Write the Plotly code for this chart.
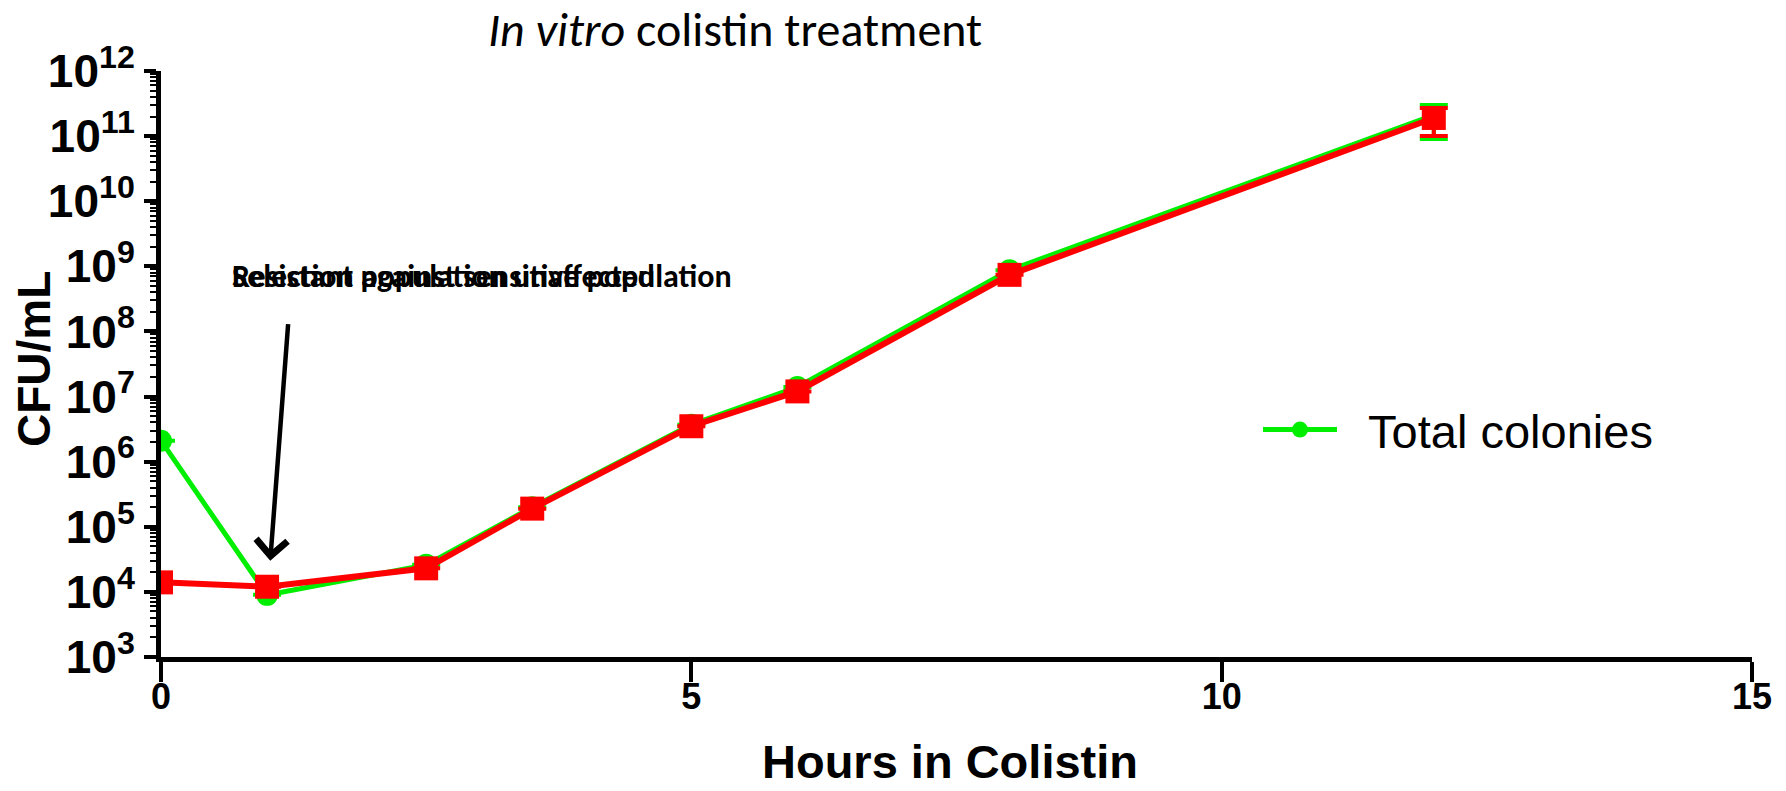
import plotly.graph_objects as go

# ---- data ----
hours = [0, 1, 2.5, 3.5, 5, 6, 8, 12]
total_colonies = [2.1e6, 9.0e3, 2.6e4, 2.0e5, 3.7e6, 1.4e7, 8.7e8, 2.1e11]
total_err_plus = [0, 0, 0, 0, 0, 0, 0, 0.9e11]
total_err_minus = [0, 0, 0, 0, 0, 0, 0, 1.2e11]
resistant = [1.4e4, 1.2e4, 2.3e4, 1.9e5, 3.5e6, 1.2e7, 7.4e8, 1.9e11]
res_err_plus = [0, 0, 0, 0, 0, 0, 0, 0.8e11]
res_err_minus = [0, 0, 0, 0, 0, 0, 0, 0.9e11]
x_ticks = [0, 5, 10, 15]
y_exponents = [3, 4, 5, 6, 7, 8, 9, 10, 11, 12]

title_text = "<i>In vitro</i> colistin treatment"
note_1 = "Selection against sensitive population"
note_2 = "Resistant population unaffected"
legend_name = "\u00a0\u00a0Total colonies"

W, H = 1786, 791
L, R, T, B = 161, 34, 71, 134
pw, ph = W - L - R, H - T - B


def px(xp):
    return (xp - L) / pw


def py(yp):
    return (H - B - yp) / ph


fig = go.Figure()
fig.add_trace(go.Scatter(
    x=hours, y=total_colonies, name=legend_name, mode="lines+markers",
    line=dict(color="#00ee00", width=5),
    marker=dict(symbol="circle", size=22, color="#00ee00"),
    error_y=dict(type="data", array=total_err_plus, arrayminus=total_err_minus,
                 color="#00ee00", thickness=4, width=14, symmetric=False),
))
fig.add_trace(go.Scatter(
    x=hours, y=resistant, name="Resistant", mode="lines+markers", showlegend=False,
    line=dict(color="#ff0000", width=6),
    marker=dict(symbol="square", size=24, color="#ff0000"),
    error_y=dict(type="data", array=res_err_plus, arrayminus=res_err_minus,
                 color="#ff0000", thickness=4, width=14, symmetric=False),
))

fig.update_xaxes(
    range=[0, 15], tickvals=x_ticks, ticktext=[str(v) for v in x_ticks],
    showline=True, linewidth=5, linecolor="black", ticks="outside", ticklen=20,
    tickwidth=4, tickcolor="black", showgrid=False, zeroline=False,
    ticklabelstandoff=-16,
    tickfont=dict(family="Liberation Sans, Arial", size=36, color="black", weight="bold"),
)
fig.update_yaxes(
    type="log", range=[3, 12],
    tickvals=[10 ** e for e in y_exponents],
    ticktext=["10<sup>%d</sup>" % e for e in y_exponents],
    showline=True, linewidth=5, linecolor="black", ticks="outside", ticklen=12,
    tickwidth=4, tickcolor="black", showgrid=False, zeroline=False,
    minor=dict(ticks="outside", ticklen=6, tickwidth=2, tickcolor="black", dtick="D1"),
    tickfont=dict(family="Liberation Sans, Arial", size=46, color="black", weight="bold"),
)

fig.add_annotation(x=px(34), y=py(359), xref="paper", yref="paper", text="CFU/mL",
                   showarrow=False, textangle=-90, xanchor="center", yanchor="middle",
                   font=dict(family="Liberation Sans, Arial", size=46, color="black", weight="bold"))
fig.add_annotation(x=px(950), y=py(761), xref="paper", yref="paper", text="Hours in Colistin",
                   showarrow=False, xanchor="center", yanchor="middle",
                   font=dict(family="Liberation Sans, Arial", size=47, color="black", weight="bold"))
fig.add_annotation(x=px(735), y=py(30), xref="paper", yref="paper", text=title_text,
                   showarrow=False, xanchor="center", yanchor="middle",
                   font=dict(family="Carlito, Open Sans, Noto Sans", size=48, color="black"))
for t in (note_1, note_2):
    fig.add_annotation(x=px(230), y=py(276), xref="paper", yref="paper", text=t,
                       showarrow=False, xanchor="left", yanchor="middle",
                       font=dict(family="Carlito, Open Sans, Noto Sans", size=32,
                                 color="black", weight="bold"))
fig.add_annotation(x=1.03, y=4.48, xref="x", yref="y", ax=18, ay=-238, text="",
                   showarrow=True, arrowhead=4, arrowsize=1.35, arrowwidth=4.5,
                   arrowcolor="black")

fig.update_layout(
    width=W, height=H, margin=dict(l=L, r=R, t=T, b=B),
    paper_bgcolor="white", plot_bgcolor="white",
    legend=dict(x=px(1258), y=py(430), xanchor="left", yanchor="middle",
                bgcolor="rgba(0,0,0,0)", itemwidth=74,
                font=dict(family="Liberation Sans, Arial", size=47, color="black")),
)
fig.write_html("out.html")
